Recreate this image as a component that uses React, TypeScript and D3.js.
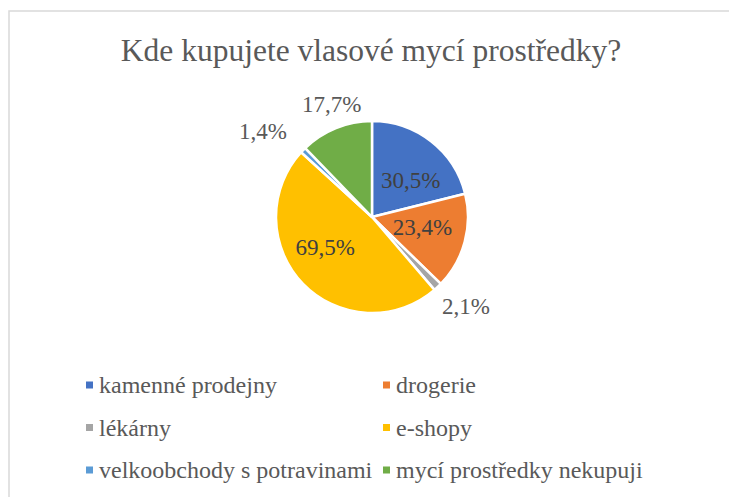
import React from "react";
import * as d3 from "d3";

const categories = [
  "kamenné prodejny",
  "drogerie",
  "lékárny",
  "e-shopy",
  "velkoobchody s potravinami",
  "mycí prostředky nekupuji",
];
const values = [30.5, 23.4, 2.1, 69.5, 1.4, 17.7];
const labels = ["30,5%", "23,4%", "2,1%", "69,5%", "1,4%", "17,7%"];
const colors = ["#4472C4", "#ED7D31", "#A5A5A5", "#FFC000", "#5B9BD5", "#70AD47"];

const W = 729;
const H = 497;
const cx = 372;
const cy = 217;
const R = 96;
const FONT = "'Liberation Serif', 'Times New Roman', serif";

const labelPos: { r: number; dx: number; dy: number }[] = [
  { r: 0.62, dx: 2, dy: 10 },
  { r: 0.62, dx: -7, dy: -5 },
  { r: 1.2, dx: 15, dy: 6 },
  { r: 0.62, dx: -4, dy: -11 },
  { r: 1.28, dx: -21, dy: 0 },
  { r: 1.23, dx: 4, dy: -3 },
];

export default function App() {
  const pie = d3.pie<number>().sort(null).value((d) => d);
  const arcs = pie(values);
  const arc = d3.arc<d3.PieArcDatum<number>>().innerRadius(0).outerRadius(R);

  return (
    <svg width={W} height={H} style={{ position: "absolute", left: 0, top: 0 }}>
      <rect x={0} y={0} width={W} height={H} fill="#fff" />
      <path d={`M9,${H} L9,11 L${W},11`} fill="none" stroke="#d9d9d9" strokeWidth={1.5} />
      <text x={371} y={61} textAnchor="middle" style={{ fontFamily: FONT }} fontSize={31.5} fill="#595959">
        Kde kupujete vlasové mycí prostředky?
      </text>
      <g transform={`translate(${cx},${cy})`}>
        {arcs.map((a, i) => (
          <path key={i} d={arc(a) || ""} fill={colors[i]} stroke="#fff" strokeWidth={2.5} strokeLinejoin="round" />
        ))}
        {arcs.map((a, i) => {
          const mid = (a.startAngle + a.endAngle) / 2;
          const rr = R * labelPos[i].r;
          const x = Math.sin(mid) * rr + labelPos[i].dx;
          const y = -Math.cos(mid) * rr + labelPos[i].dy;
          return (
            <text key={i} x={x} y={y} textAnchor="middle" dominantBaseline="central"
              style={{ fontFamily: FONT }} fontSize={23}
              fill={labelPos[i].r < 1 ? "#404040" : "#595959"}>
              {labels[i]}
            </text>
          );
        })}
      </g>
      <g>
        {categories.map((c, i) => {
          const col = i % 2;
          const row = Math.floor(i / 2);
          const x = col === 0 ? 86 : 383;
          const y = 385 + row * 42.5;
          return (
            <g key={i}>
              <rect x={x} y={y - 3.5} width={7} height={7} fill={colors[i]} />
              <text x={x + 13} y={y} dominantBaseline="central" style={{ fontFamily: FONT }} fontSize={24} fill="#595959">
                {c}
              </text>
            </g>
          );
        })}
      </g>
    </svg>
  );
}
